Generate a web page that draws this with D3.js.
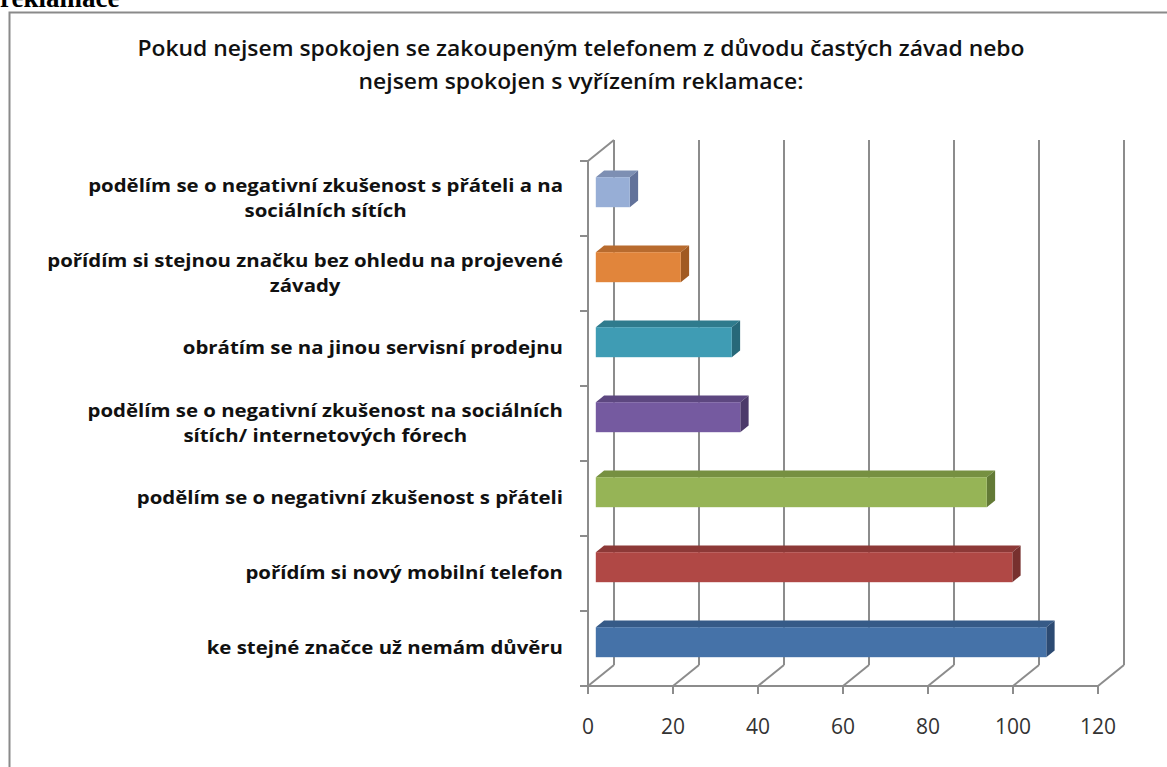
<!DOCTYPE html>
<html>
<head>
<meta charset="utf-8">
<script src="https://cdn.jsdelivr.net/npm/d3@7"></script>
<style>
  body { margin: 0; background: #fff; }
  svg { display: block; }
</style>
</head>
<body>
<div class="chart"></div>
<script>
const width = 1167
const height = 767

// categories from top to bottom, each split into its label lines
const categories = [
    ["podělím se o negativní zkušenost s přáteli a na", "sociálních sítích"],
    ["pořídím si stejnou značku bez ohledu na projevené", "závady"],
    ["obrátím se na jinou servisní prodejnu"],
    ["podělím se o negativní zkušenost na sociálních", "sítích/ internetových fórech"],
    ["podělím se o negativní zkušenost s přáteli"],
    ["pořídím si nový mobilní telefon"],
    ["ke stejné značce už nemám důvěru"]
]
const values = [8, 20, 32, 34, 92, 98, 106]
const xTicks = [0, 20, 40, 60, 80, 100, 120]
const titleLines = [
    "Pokud nejsem spokojen se zakoupeným telefonem z důvodu častých závad nebo",
    "nejsem spokojen s vyřízením reklamace:"
]
// front, top, side colours per bar
const barColors = [
    ["#97aed6", "#7d8fb3", "#62729a"],
    ["#e1853b", "#b86b2e", "#a15a22"],
    ["#3f9cb4", "#2f7b8d", "#276879"],
    ["#755aa0", "#5d4780", "#4c3a6a"],
    ["#96b456", "#769041", "#637a36"],
    ["#b04845", "#8d3937", "#77302e"],
    ["#4572a8", "#365a87", "#2c4a72"]
]

const fontSans = "'Open Sans', Lato, sans-serif"

const svg = d3.select(".chart").append("svg")
    .attr("width", width)
    .attr("height", height)

// page text cut off at the top
svg.append("text")
    .attr("x", 0)
    .attr("y", 7)
    .attr("font-family", "'Liberation Serif', serif")
    .attr("font-weight", "bold")
    .attr("font-size", 27)
    .text("reklamace")

// chart frame
svg.append("path")
    .attr("d", "M9.5,767 V12.5 H1167")
    .attr("fill", "none")
    .attr("stroke", "#8a8a8a")
    .attr("stroke-width", 2)

// the original picture is a little stretched sideways
const title = svg.append("text")
    .attr("text-anchor", "middle")
    .attr("font-family", fontSans)
    .attr("font-weight", 600)
    .attr("font-size", 22)
    .attr("fill", "#111")
    .attr("transform", "translate(581,0) scale(1.04,1)")
titleLines.forEach((t, i) => {
    title.append("tspan").attr("x", 0).attr("y", 56 + i * 33).text(t)
})

// 3d box
const depth = { dx: 26, dy: -21 }
const off = (p, d) => [p[0] + depth.dx * d, p[1] + depth.dy * d]

const xScale = d3.scaleLinear().domain([0, 120]).range([588, 1098])
const yScale = d3.scaleBand().domain(d3.range(categories.length)).range([161, 686])

const plotTop = yScale.range()[0]
const plotBottom = yScale.range()[1]
const gridColor = "#8c8c8c"
const grid = svg.append("g")
    .attr("fill", "none")
    .attr("stroke", gridColor)
    .attr("stroke-width", 2)

// back wall gridlines + floor diagonals + ticks
xTicks.forEach(t => {
    const fx = xScale(t)
    const b = off([fx, plotBottom], 1)
    const tp = off([fx, plotTop], 1)
    grid.append("line").attr("x1", b[0]).attr("y1", b[1]).attr("x2", tp[0]).attr("y2", tp[1])
    grid.append("line").attr("x1", fx).attr("y1", plotBottom).attr("x2", b[0]).attr("y2", b[1])
    grid.append("line").attr("x1", fx).attr("y1", plotBottom).attr("x2", fx).attr("y2", plotBottom + 8)
})
// floor front edge
grid.append("line")
    .attr("x1", xScale(0)).attr("y1", plotBottom)
    .attr("x2", xScale(120)).attr("y2", plotBottom)
// left wall front edge and top
const lt = off([xScale(0), plotTop], 1)
grid.append("line")
    .attr("x1", xScale(0)).attr("y1", plotTop)
    .attr("x2", xScale(0)).attr("y2", plotBottom)
grid.append("line")
    .attr("x1", xScale(0)).attr("y1", plotTop)
    .attr("x2", lt[0]).attr("y2", lt[1])
// category ticks
d3.range(categories.length + 1).forEach(i => {
    const y = plotTop + i * yScale.step()
    grid.append("line")
        .attr("x1", xScale(0) - 8).attr("y1", y)
        .attr("x2", xScale(0)).attr("y2", y)
})

// x tick labels
svg.append("g")
    .attr("font-family", fontSans)
    .attr("font-size", 21)
    .attr("fill", "#333")
    .attr("text-anchor", "middle")
    .selectAll("text")
    .data(xTicks)
    .join("text")
    .attr("x", d => xScale(d))
    .attr("y", 734)
    .text(d => d)

// bars
const d0 = 0.3
const d1 = 0.62
const barH = yScale.bandwidth() * 0.4
const bars = svg.append("g")
values.forEach((v, i) => {
    const yc = yScale(i) + yScale.bandwidth() / 2
    const x0 = xScale(0)
    const x1 = xScale(v)
    const ft = [off([x0, yc - barH / 2], d0), off([x1, yc - barH / 2], d0)]
    const fb = off([x1, yc + barH / 2], d0)
    const bt = [off([x0, yc - barH / 2], d1), off([x1, yc - barH / 2], d1)]
    const bb = off([x1, yc + barH / 2], d1)
    const c = barColors[i]
    bars.append("polygon")
        .attr("points", [ft[0], ft[1], bt[1], bt[0]].join(" "))
        .attr("fill", c[1])
    bars.append("polygon")
        .attr("points", [ft[1], bt[1], bb, fb].join(" "))
        .attr("fill", c[2])
    bars.append("rect")
        .attr("x", ft[0][0])
        .attr("y", ft[0][1])
        .attr("width", x1 - x0)
        .attr("height", barH)
        .attr("fill", c[0])
})

// category labels: block right aligned, lines centred in block
const labelRight = 563
const labelStretch = 1.2
const lineH = 25
const labels = svg.append("g")
    .attr("font-family", fontSans)
    .attr("font-weight", "bold")
    .attr("font-size", 17)
    .attr("fill", "#111")
    .attr("text-anchor", "middle")
categories.forEach((lines, i) => {
    const yc = yScale(i) + yScale.bandwidth() / 2
    const g = labels.append("text")
        .attr("transform", `translate(${labelRight},0) scale(${labelStretch},1)`)
    const spans = lines.map((t, j) => g.append("tspan")
        .attr("y", yc + (j - (lines.length - 1) / 2) * lineH + 6)
        .text(t))
    const maxW = d3.max(spans, s => s.node().getComputedTextLength())
    spans.forEach(s => s.attr("x", -maxW / 2))
})
</script>
</body>
</html>
